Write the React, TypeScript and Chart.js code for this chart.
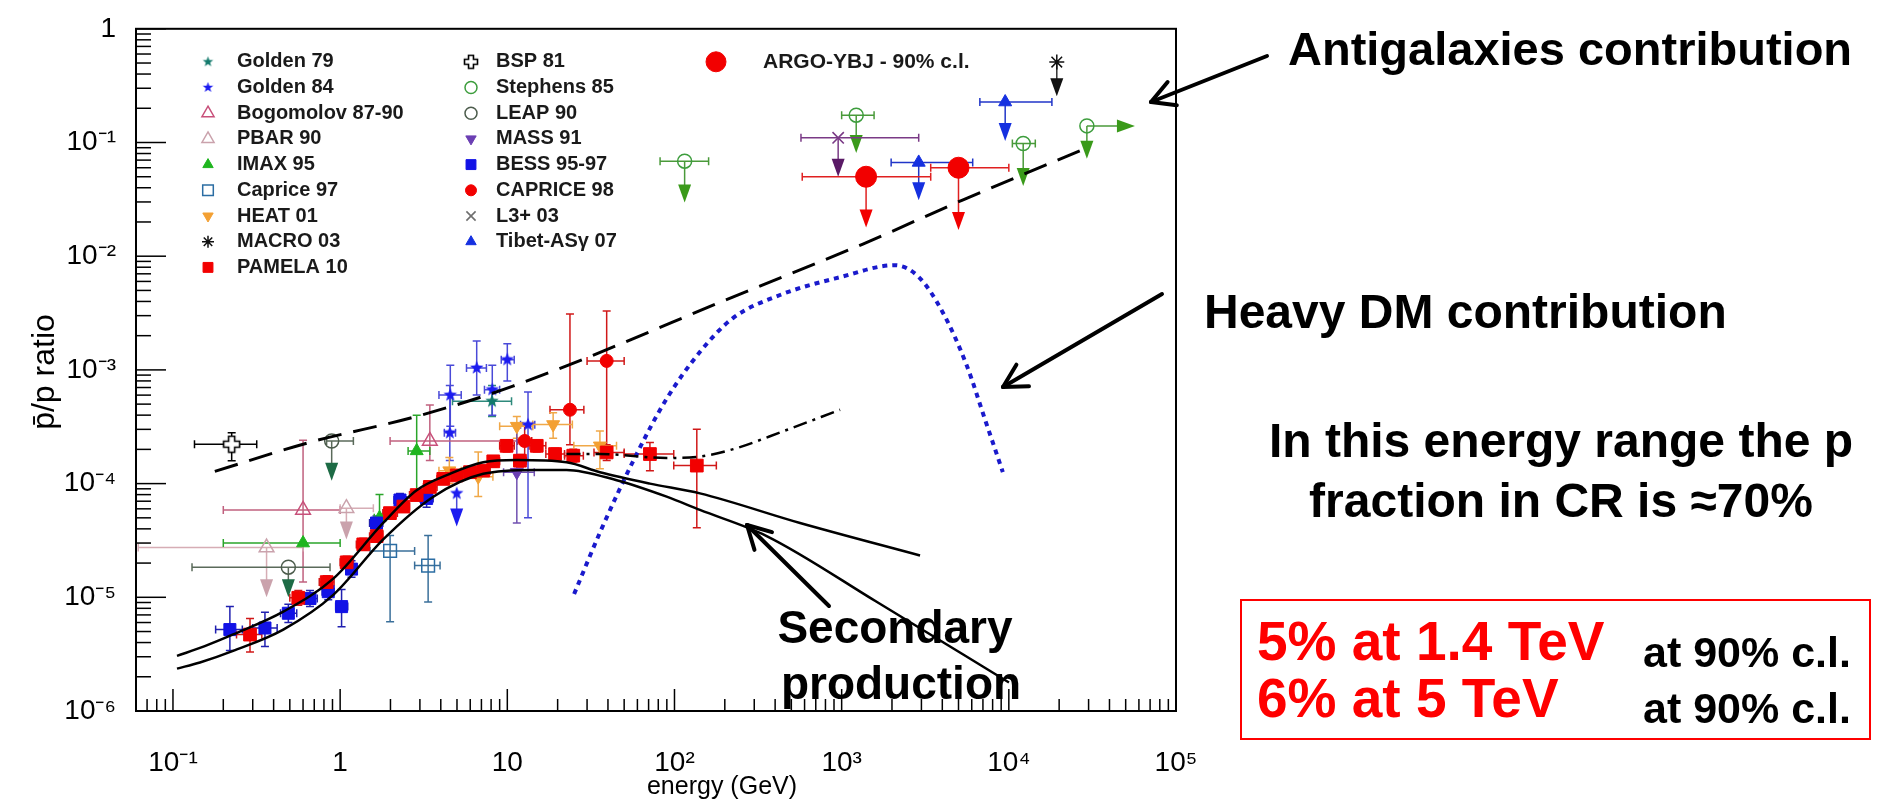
import React, { useEffect, useRef } from 'react';
import { Chart, registerables } from 'chart.js';
import { drawPoint } from 'chart.js/helpers';

Chart.register(...registerables);

type Row = number[];

// ---------------- axes ----------------
const X_MIN = 0.0601;
const X_MAX = 1e5;
const Y_MIN = 1e-6;
const Y_MAX = 1;

const xTickValues = [0.1, 1, 10, 100, 1000, 1e4, 1e5];
const xTickTexts = ['10⁻¹', '1', '10', '10²', '10³', '10⁴', '10⁵'];
const yTickValues = [1, 0.1, 0.01, 1e-3, 1e-4, 1e-5, 1e-6];
const yTickTexts = ['1', '10⁻¹', '10⁻²', '10⁻³', '10⁻⁴', '10⁻⁵', '10⁻⁶'];

// ---------------- measurements ----------------
// [E (GeV), pbar/p, E low, E high, ratio low, ratio high]
const golden79: Row[] = [[8.1, 5.3e-4, 4.7, 10.6, 3.9e-4, 7.3e-4]];
const golden84: Row[] = [
  [4.56, 6.0e-4, 3.9, 5.3, 3.2e-4, 1.1e-3],
  [6.56, 1.04e-3, 5.7, 7.5, 6.0e-4, 1.8e-3],
  [8.13, 6.7e-4, 7.3, 9.0, 4.0e-4, 1.1e-3],
  [10.0, 1.23e-3, 9.2, 11.0, 8.0e-4, 1.7e-3],
  [4.53, 2.8e-4, 4.2, 4.9, 1.6e-4, 7.3e-4],
  [13.3, 3.3e-4, 12.0, 14.6, 5.0e-5, 6.4e-4],
];
// upper limits: [E, ratio, E low, E high, arrow tip ratio]
const golden84UL: Row[] = [[4.98, 8.2e-5, 0, 0, 4.2e-5]];
const bogomolov: Row[] = [
  [0.6, 5.87e-5, 0.2, 1.0, 1.36e-5, 2.4e-4],
  [3.44, 2.37e-4, 1.99, 11.9, 1.6e-4, 4.9e-4],
];
const pbar90UL: Row[] = [
  [0.363, 2.74e-5, 0.062, 0.6, 1.0e-5],
  [1.09, 6.08e-5, 1.0, 1.58, 3.22e-5],
];
const imax95: Row[] = [
  [0.6, 3.0e-5, 0.2, 1.0, 0, 0],
  [1.72, 5.0e-5, 1.6, 1.85, 3.8e-5, 8.0e-5],
  [2.87, 1.94e-4, 2.55, 3.44, 8.7e-5, 4.0e-4],
];
const caprice97: Row[] = [
  [1.99, 2.56e-5, 1.51, 2.79, 6.1e-6, 3.5e-5],
  [3.36, 1.9e-5, 2.79, 3.96, 9.1e-6, 3.5e-5],
];
const heat01: Row[] = [
  [4.5, 1.3e-4, 3.9, 5.3, 1.0e-4, 1.7e-4],
  [6.7, 1.15e-4, 5.5, 8.2, 7.7e-5, 1.9e-4],
  [11.4, 3.2e-4, 9.0, 14.2, 2.5e-4, 3.9e-4],
  [18.8, 3.31e-4, 14.2, 24.5, 2.5e-4, 4.2e-4],
  [35.8, 2.15e-4, 25, 45, 1.35e-4, 2.9e-4],
];
const macro03UL: Row[] = [[19360, 0.51, 0, 0, 0.255]];
const pamela10: Row[] = [
  [0.289, 4.7e-6, 0.24, 0.34, 3.3e-6, 6.5e-6],
  [0.562, 9.9e-6, 0.5, 0.63, 8.5e-6, 1.15e-5],
  [0.831, 1.36e-5, 0.75, 0.92, 1.2e-5, 1.55e-5],
  [1.094, 2.03e-5, 1.0, 1.2, 1.8e-5, 2.3e-5],
  [1.375, 2.92e-5, 1.25, 1.5, 2.6e-5, 3.3e-5],
  [1.654, 3.45e-5, 1.5, 1.8, 3.1e-5, 3.9e-5],
  [1.986, 5.5e-5, 1.8, 2.2, 5.0e-5, 6.1e-5],
  [2.39, 6.28e-5, 2.2, 2.6, 5.7e-5, 6.9e-5],
  [2.87, 7.93e-5, 2.6, 3.15, 7.2e-5, 8.8e-5],
  [3.44, 9.35e-5, 3.15, 3.8, 8.5e-5, 1.03e-4],
  [4.14, 1.1e-4, 3.8, 4.5, 1.0e-4, 1.21e-4],
  [4.98, 1.18e-4, 4.5, 5.5, 1.07e-4, 1.3e-4],
  [5.98, 1.26e-4, 5.5, 6.6, 1.14e-4, 1.39e-4],
  [7.18, 1.3e-4, 6.6, 7.9, 1.17e-4, 1.44e-4],
  [8.24, 1.57e-4, 7.9, 9.0, 1.4e-4, 1.75e-4],
  [9.9, 2.15e-4, 9.0, 11.0, 1.9e-4, 2.4e-4],
  [11.9, 1.59e-4, 11.0, 13.0, 1.4e-4, 1.8e-4],
  [15.0, 2.15e-4, 13.5, 17.0, 1.9e-4, 2.4e-4],
  [19.3, 1.82e-4, 17.0, 22.0, 1.6e-4, 2.05e-4],
  [24.8, 1.76e-4, 22.0, 28.5, 1.55e-4, 2.0e-4],
  [39.3, 1.88e-4, 33.0, 50.0, 1.6e-4, 2.2e-4],
  [71.3, 1.82e-4, 50.0, 99.0, 1.3e-4, 2.3e-4],
  [136, 1.44e-4, 99.0, 178, 4.1e-5, 3.0e-4],
];
const bsp81: Row[] = [[0.2245, 2.22e-4, 0.1345, 0.317, 1.59e-4, 2.8e-4]];
const stephens85UL: Row[] = [
  [115, 0.0685, 82, 160, 0.0296],
  [1222, 0.174, 1000, 1563, 0.081],
  [12190, 0.098, 10500, 14400, 0.0414],
  [29300, 0.14, 0, 0, 0.0718],
];
// [E, ratio, arrow tip energy]
const stephens85Right: Row[] = [[29300, 0.14, 56800]];
const leap90UL: Row[] = [
  [0.49, 1.84e-5, 0.13, 0.87, 1.0e-5],
  [0.89, 2.37e-4, 0.83, 1.2, 1.06e-4],
];
const mass91: Row[] = [[11.4, 1.26e-4, 9.5, 14.5, 4.5e-5, 3.3e-4]];
const bess9597: Row[] = [
  [0.219, 5.2e-6, 0.18, 0.26, 3.4e-6, 8.3e-6],
  [0.355, 5.37e-6, 0.3, 0.42, 3.7e-6, 7.4e-6],
  [0.49, 7.24e-6, 0.44, 0.55, 6.0e-6, 8.7e-6],
  [0.66, 9.77e-6, 0.6, 0.73, 8.3e-6, 1.15e-5],
  [0.849, 1.12e-5, 0.78, 0.92, 9.5e-6, 1.35e-5],
  [1.02, 8.28e-6, 0.94, 1.11, 5.5e-6, 1.17e-5],
  [1.17, 1.77e-5, 1.1, 1.25, 1.5e-5, 2.1e-5],
  [1.65, 4.5e-5, 1.5, 1.8, 3.9e-5, 5.2e-5],
  [2.28, 7.17e-5, 2.1, 2.5, 6.3e-5, 8.2e-5],
  [3.29, 7.41e-5, 3.0, 3.6, 6.2e-5, 8.8e-5],
];
const caprice98: Row[] = [
  [12.7, 2.37e-4, 11.5, 14.0, 1.6e-4, 3.3e-4],
  [23.7, 4.46e-4, 18.0, 28.7, 2.2e-4, 3.1e-3],
  [39.3, 1.2e-3, 30.0, 50.0, 1.8e-4, 3.3e-3],
];
const l3UL: Row[] = [[953, 0.11, 571, 2890, 0.05]];
const tibetUL: Row[] = [
  [2890, 0.0668, 1977, 6080, 0.031],
  [9510, 0.227, 6710, 18100, 0.103],
];
const argoUL: Row[] = [
  [1400, 0.05, 581, 3410, 0.0179],
  [5000, 0.06, 3410, 10000, 0.017],
];

// ---------------- model curves [E, ratio] ----------------
const secondaryUpper: Row[] = [
  [0.1057, 3.05e-6], [0.155, 3.72e-6], [0.229, 4.71e-6], [0.457, 7.48e-6], [0.91, 1.46e-5],
  [1.81, 4.51e-5], [2.87, 8.75e-5], [4.54, 1.22e-4], [7.18, 1.54e-4], [11.4, 1.61e-4],
  [22.6, 1.54e-4], [35.8, 1.26e-4], [71.3, 1.0e-4], [142, 8.2e-5], [564, 4.5e-5], [2944, 2.33e-5],
];
const secondaryLower: Row[] = [
  [0.1057, 2.36e-6], [0.145, 2.67e-6], [0.229, 3.38e-6], [0.457, 5.2e-6], [0.91, 1.05e-5],
  [1.81, 3.23e-5], [3.61, 7.67e-5], [7.18, 1.22e-4], [14.3, 1.32e-4], [22.6, 1.32e-4],
  [45.1, 1.07e-4], [89.8, 7.67e-5], [142, 5.87e-5], [356, 3.46e-5], [1618, 9.14e-6], [10020, 1.78e-6],
];
const dashDotCurve: Row[] = [
  [22.6, 1.82e-4], [35.8, 1.82e-4], [89.8, 1.68e-4], [142, 1.73e-4], [225, 2.01e-4], [448, 2.89e-4], [979, 4.46e-4],
];
const antigalaxies: Row[] = [
  [0.178, 1.28e-4], [0.66, 2.31e-4], [2.87, 3.9e-4], [10.8, 7.2e-4], [279, 5.0e-3],
  [1340, 0.0128], [5240, 0.031], [29400, 0.09],
];
const heavyDM: Row[] = [
  [25.1, 1.07e-5], [36.1, 3.81e-5], [59.3, 1.81e-4], [89.7, 5.57e-4], [142.6, 1.45e-3],
  [222.8, 2.84e-3], [431.5, 4.58e-3], [986, 6.56e-3], [2078, 8.33e-3], [2893, 6.56e-3],
  [4027, 3.2e-3], [5606, 1.09e-3], [7183, 3.71e-4], [9206, 1.26e-4],
];

const LEGEND_COL1 = ['Golden 79', 'Golden 84', 'Bogomolov 87-90', 'PBAR 90', 'IMAX 95', 'Caprice 97', 'HEAT 01', 'MACRO 03', 'PAMELA 10'];
const LEGEND_COL2 = ['BSP 81', 'Stephens 85', 'LEAP 90', 'MASS 91', 'BESS 95-97', 'CAPRICE 98', 'L3+ 03', 'Tibet-ASγ 07'];
const ARGO_LABEL = 'ARGO-YBJ - 90% c.l.';

const FONT = '"Liberation Sans", Arial, Helvetica, sans-serif';
const CLEAR = 'rgba(0,0,0,0)';

function makeStar(color: string, r: number) {
  const c = document.createElement('canvas');
  const s = Math.ceil(r * 2 + 2);
  c.width = s; c.height = s;
  const g = c.getContext('2d')!;
  g.fillStyle = color;
  g.beginPath();
  for (let i = 0; i < 10; i++) {
    const rad = i % 2 === 0 ? r : r * 0.42;
    const a = -Math.PI / 2 + (i * Math.PI) / 5;
    const px = s / 2 + rad * Math.cos(a);
    const py = s / 2 + rad * Math.sin(a);
    if (i === 0) g.moveTo(px, py); else g.lineTo(px, py);
  }
  g.closePath();
  g.fill();
  return c;
}

function makeOpenCross(r: number) {
  const c = document.createElement('canvas');
  const s = Math.ceil(r * 2 + 3);
  c.width = s; c.height = s;
  const g = c.getContext('2d')!;
  const w = r * 0.38;
  const pts = [[-w, -r], [w, -r], [w, -w], [r, -w], [r, w], [w, w], [w, r], [-w, r], [-w, w], [-r, w], [-r, -w], [-w, -w]];
  g.beginPath();
  pts.forEach((p, i) => (i === 0 ? g.moveTo(s / 2 + p[0], s / 2 + p[1]) : g.lineTo(s / 2 + p[0], s / 2 + p[1])));
  g.closePath();
  g.fillStyle = '#fff';
  g.fill();
  g.strokeStyle = '#000';
  g.lineWidth = 1.6;
  g.stroke();
  return c;
}

const pts = (rows: Row[]) => rows.map((r) => ({ x: r[0], y: r[1] }));

function tickText(v: number, values: number[], texts: string[]) {
  for (let i = 0; i < values.length; i++) {
    if (Math.abs(Math.log10(v) - Math.log10(values[i])) < 1e-6) return texts[i];
  }
  return '';
}

export default function App() {
  const ref = useRef<HTMLCanvasElement>(null);

  useEffect(() => {
    const canvas = ref.current!;
    const specs: any[] = [
      { label: 'PAMELA 10', rows: pamela10, style: 'rect', r: 9, color: '#f20000', bg: '#f20000', bw: 1, err: '#d01818', lr: 7 },
      { label: 'CAPRICE 98', rows: caprice98, style: 'circle', r: 6.5, color: '#f20000', bg: '#f20000', bw: 1, err: '#d01818', lr: 5.5 },
      { label: 'BESS 95-97', rows: bess9597, style: 'rect', r: 8.5, color: '#1212e6', bg: '#1212e6', bw: 1, err: '#2020b0', lr: 7 },
      { label: 'Caprice 97', rows: caprice97, style: 'rect', r: 9, color: '#2b6da3', bg: CLEAR, bw: 1.5, err: '#3a6f9a', lr: 7.5 },
      { label: 'Golden 79', rows: golden79, style: makeStar('#137a6c', 7), lstyle: makeStar('#137a6c', 5.5), r: 7, color: '#137a6c', bg: '#137a6c', bw: 0, err: '#2e8a7c' },
      { label: 'Golden 84', rows: golden84, ul: golden84UL, style: makeStar('#1c1cf0', 7), lstyle: makeStar('#1c1cf0', 5.5), r: 7, color: '#1c1cf0', bg: '#1c1cf0', bw: 0, err: '#4a4ad8', head: '#1c1cf0' },
      { label: 'Bogomolov 87-90', rows: bogomolov, style: 'triangle', r: 8.5, color: '#c8507a', bg: CLEAR, bw: 1.5, err: '#c0607e', lr: 7 },
      { label: 'PBAR 90', rows: [], ul: pbar90UL, style: 'triangle', r: 8.5, color: '#caa2ac', bg: CLEAR, bw: 1.5, err: '#d6adb5', head: '#caa2ac', lr: 7 },
      { label: 'IMAX 95', rows: imax95, style: 'triangle', r: 7.5, color: '#1fb51f', bg: '#1fb51f', bw: 1, err: '#2aa52a', lr: 6 },
      { label: 'HEAT 01', rows: heat01, style: 'triangle', rot: 180, r: 7.5, color: '#f3a033', bg: '#f3a033', bw: 1, err: '#f0a848', lr: 6 },
      { label: 'MACRO 03', rows: [], ul: macro03UL, style: 'star', r: 7.5, color: '#111', bg: CLEAR, bw: 1.5, err: '#333', head: '#111', lr: 6 },
      { label: 'BSP 81', rows: bsp81, style: makeOpenCross(8), lstyle: makeOpenCross(6.5), r: 8, color: '#000', bg: '#fff', bw: 0, err: '#000' },
      { label: 'Stephens 85', rows: [], ul: stephens85UL, right: stephens85Right, style: 'circle', r: 7, color: '#3d9d3d', bg: CLEAR, bw: 1.5, err: '#4a9a3a', head: '#3a9a1a', lr: 6 },
      { label: 'LEAP 90', rows: [], ul: leap90UL, style: 'circle', r: 7, color: '#4c5c4c', bg: CLEAR, bw: 1.5, err: '#5a6a5a', head: '#1d6b45', lr: 6 },
      { label: 'MASS 91', rows: mass91, style: 'triangle', rot: 180, r: 7.5, color: '#6b3fb3', bg: '#6b3fb3', bw: 1, err: '#7050b0', lr: 6 },
      { label: 'L3+ 03', rows: [], ul: l3UL, style: 'crossRot', r: 8, color: '#7a3a86', lcolor: '#6e6e6e', bg: CLEAR, bw: 1.6, err: '#7a3a86', head: '#5a1a66', lr: 6.5 },
      { label: 'Tibet-ASγ 07', rows: [], ul: tibetUL, style: 'triangle', r: 7.5, color: '#1530e0', bg: '#1530e0', bw: 1, err: '#2035c8', head: '#1530e0', lr: 6 },
      { label: ARGO_LABEL, rows: [], ul: argoUL, style: 'circle', r: 10.5, color: '#f20000', bg: '#f20000', bw: 1, err: '#e02020', head: '#f20000', lr: 10 },
    ];
    const byLabel: Record<string, any> = {};
    specs.forEach((s) => (byLabel[s.label] = s));

    const curve = (label: string, rows: Row[], color: string, width: number, dash: number[]) => ({
      label, data: pts(rows), showLine: true, pointRadius: 0, pointHitRadius: 0,
      borderColor: color, backgroundColor: color, borderWidth: width, borderDash: dash,
      fill: false, cubicInterpolationMode: 'monotone', order: 0,
    });

    const datasets: any[] = [
      curve('Secondary production (upper)', secondaryUpper, '#000', 2.5, []),
      curve('Secondary production (lower)', secondaryLower, '#000', 2.5, []),
      curve('Antigalaxies contribution', antigalaxies, '#000', 3, [24, 12]),
      curve('Extra component', dashDotCurve, '#000', 2.5, [14, 6, 3, 6]),
      curve('Heavy DM contribution', heavyDM, '#1a1acc', 4, [5, 5]),
    ];
    specs.forEach((s) => {
      const rows = [...s.rows, ...(s.ul || [])];
      datasets.push({
        label: s.label, data: pts(rows), showLine: false,
        pointStyle: s.style, pointRadius: s.r, pointRotation: s.rot || 0,
        pointBackgroundColor: s.bg, pointBorderColor: s.color, pointBorderWidth: s.bw,
        errRows: s.rows, ulRows: s.ul || [], rightRows: s.right || [],
        errColor: s.err, headColor: s.head || s.color, order: 1,
      });
    });

    const line = (ctx: CanvasRenderingContext2D, x1: number, y1: number, x2: number, y2: number) => {
      ctx.beginPath(); ctx.moveTo(x1, y1); ctx.lineTo(x2, y2); ctx.stroke();
    };

    const errorBars = {
      id: 'errorBars',
      beforeDatasetsDraw(chart: any) {
        const { ctx, chartArea: a } = chart;
        const xs = chart.scales.x;
        const ys = chart.scales.y;
        ctx.save();
        ctx.beginPath();
        ctx.rect(a.left, a.top, a.right - a.left, a.bottom - a.top);
        ctx.clip();
        ctx.lineWidth = 1.5;
        const cap = 4;
        chart.data.datasets.forEach((ds: any) => {
          if (!ds.errRows) return;
          ctx.strokeStyle = ds.errColor;
          const xbar = (r: Row, py: number) => {
            if (r[2] > 0 && r[3] > 0) {
              const x1 = xs.getPixelForValue(r[2]);
              const x2 = xs.getPixelForValue(r[3]);
              line(ctx, x1, py, x2, py);
              line(ctx, x1, py - cap, x1, py + cap);
              line(ctx, x2, py - cap, x2, py + cap);
            }
          };
          ds.errRows.forEach((r: Row) => {
            const px = xs.getPixelForValue(r[0]);
            const py = ys.getPixelForValue(r[1]);
            xbar(r, py);
            if (r[4] > 0 && r[5] > 0) {
              const y1 = ys.getPixelForValue(r[4]);
              const y2 = ys.getPixelForValue(r[5]);
              line(ctx, px, y1, px, y2);
              line(ctx, px - cap, y1, px + cap, y1);
              line(ctx, px - cap, y2, px + cap, y2);
            }
          });
          ds.ulRows.forEach((r: Row) => {
            const px = xs.getPixelForValue(r[0]);
            const py = ys.getPixelForValue(r[1]);
            ctx.strokeStyle = ds.errColor;
            xbar(r, py);
            const yt = ys.getPixelForValue(r[4]);
            line(ctx, px, py, px, yt - 14);
            ctx.fillStyle = ds.headColor;
            ctx.beginPath();
            ctx.moveTo(px, yt);
            ctx.lineTo(px - 6.5, yt - 18);
            ctx.lineTo(px + 6.5, yt - 18);
            ctx.closePath();
            ctx.fill();
          });
          ds.rightRows.forEach((r: Row) => {
            const px = xs.getPixelForValue(r[0]);
            const py = ys.getPixelForValue(r[1]);
            const xt = xs.getPixelForValue(r[2]);
            ctx.strokeStyle = ds.errColor;
            line(ctx, px, py, xt - 14, py);
            ctx.fillStyle = ds.headColor;
            ctx.beginPath();
            ctx.moveTo(xt, py);
            ctx.lineTo(xt - 18, py - 6.5);
            ctx.lineTo(xt - 18, py + 6.5);
            ctx.closePath();
            ctx.fill();
          });
        });
        ctx.restore();
      },
    };

    const frameAndTicks = {
      id: 'frameAndTicks',
      afterDraw(chart: any) {
        const { ctx, chartArea: a } = chart;
        const xs = chart.scales.x;
        const ys = chart.scales.y;
        ctx.save();
        ctx.strokeStyle = '#000';
        ctx.lineWidth = 1.5;
        const isMajor = (v: number) => Math.abs(Math.log10(v) - Math.round(Math.log10(v))) < 1e-6;
        const isNice = (v: number) => {
          const m = v / Math.pow(10, Math.floor(Math.log10(v) + 1e-9));
          return Math.abs(m - Math.round(m)) < 1e-6;
        };
        xs.ticks.forEach((t: any) => {
          const v = t.value;
          if (!isNice(v) || v < X_MIN || v > X_MAX * 1.0001) return;
          const px = xs.getPixelForValue(v);
          line(ctx, px, a.bottom, px, a.bottom - (isMajor(v) ? 22 : 12));
        });
        ys.ticks.forEach((t: any) => {
          const v = t.value;
          if (!isNice(v) || v < Y_MIN * 0.9999 || v > Y_MAX * 1.0001) return;
          const py = ys.getPixelForValue(v);
          line(ctx, a.left, py, a.left + (isMajor(v) ? 30 : 15), py);
        });
        ctx.lineWidth = 2;
        ctx.strokeRect(a.left, a.top, a.right - a.left, a.bottom - a.top);

        // axis titles
        ctx.fillStyle = '#000';
        ctx.font = `25px ${FONT}`;
        ctx.textAlign = 'center';
        ctx.textBaseline = 'middle';
        ctx.fillText('energy (GeV)', 722, 787);
        ctx.save();
        ctx.translate(45, 372);
        ctx.rotate(-Math.PI / 2);
        ctx.font = `32px ${FONT}`;
        ctx.fillText('p\u0304/p ratio', 0, 0);
        ctx.restore();

        // legend
        const drawMarker = (s: any, x: number, y: number) => {
          ctx.save();
          const c = s.lcolor || s.color;
          ctx.fillStyle = s.bg === CLEAR ? CLEAR : (s.lcolor || s.bg);
          ctx.strokeStyle = c;
          ctx.lineWidth = s.bw || 1;
          drawPoint(ctx, { pointStyle: s.lstyle || s.style, rotation: s.rot || 0, radius: s.lr || s.r, borderWidth: s.bw } as any, x, y);
          ctx.restore();
        };
        ctx.font = `bold 20px ${FONT}`;
        ctx.textAlign = 'left';
        ctx.textBaseline = 'middle';
        const y0 = a.top + 33;
        const dy = 25.7;
        LEGEND_COL1.forEach((name, i) => {
          drawMarker(byLabel[name], a.left + 72, y0 + i * dy);
          ctx.fillStyle = '#1a1a1a';
          ctx.fillText(name, a.left + 101, y0 + i * dy);
        });
        LEGEND_COL2.forEach((name, i) => {
          drawMarker(byLabel[name], a.left + 335, y0 + i * dy);
          ctx.fillStyle = '#1a1a1a';
          ctx.fillText(name, a.left + 360, y0 + i * dy);
        });
        drawMarker(byLabel[ARGO_LABEL], a.left + 580, y0);
        ctx.fillStyle = '#1a1a1a';
        ctx.font = `bold 21px ${FONT}`;
        ctx.fillText(ARGO_LABEL, a.left + 627, y0);
        ctx.restore();
      },
    };

    const annotations = {
      id: 'annotations',
      afterDraw(chart: any) {
        const ctx: CanvasRenderingContext2D = chart.ctx;
        ctx.save();
        ctx.fillStyle = '#000';
        ctx.textBaseline = 'middle';
        ctx.textAlign = 'left';
        ctx.font = `bold 47px ${FONT}`;
        ctx.fillText('Antigalaxies contribution', 1288, 52);
        ctx.font = `bold 48px ${FONT}`;
        ctx.fillText('Heavy DM contribution', 1204, 315);
        ctx.textAlign = 'center';
        ctx.fillText('In this energy range the p', 1561, 444);
        ctx.fillText('fraction in CR is ≈70%', 1561, 504);
        ctx.font = `bold 46px ${FONT}`;
        ctx.fillText('Secondary', 895, 630);
        ctx.fillText('production', 901, 686);

        ctx.strokeStyle = '#f00';
        ctx.lineWidth = 2;
        ctx.strokeRect(1241, 600, 629, 139);
        ctx.textAlign = 'left';
        ctx.fillStyle = '#f00';
        ctx.font = `bold 55px ${FONT}`;
        ctx.fillText('5% at 1.4 TeV', 1257, 645);
        ctx.fillText('6% at 5 TeV', 1257, 702);
        ctx.fillStyle = '#000';
        ctx.font = `bold 43px ${FONT}`;
        ctx.fillText('at 90% c.l.', 1643, 655);
        ctx.fillText('at 90% c.l.', 1643, 711);

        const arrow = (x1: number, y1: number, x2: number, y2: number) => {
          ctx.strokeStyle = '#000';
          ctx.lineWidth = 4;
          ctx.lineCap = 'round';
          line(ctx, x1, y1, x2, y2);
          const ang = Math.atan2(y2 - y1, x2 - x1);
          const L = 26;
          for (const d of [-0.5, 0.5]) {
            line(ctx, x2, y2, x2 - L * Math.cos(ang + d), y2 - L * Math.sin(ang + d));
          }
        };
        arrow(1267, 56, 1151, 102);
        arrow(1162, 294, 1003, 387);
        arrow(829, 606, 747, 525);
        ctx.restore();
      },
    };

    const chart = new Chart(canvas, {
      type: 'scatter',
      data: { datasets },
      options: {
        responsive: false,
        animation: false,
        devicePixelRatio: 1,
        layout: { padding: { left: 0, top: 18, right: 707, bottom: 0 } },
        plugins: { legend: { display: false }, tooltip: { enabled: false } },
        scales: {
          x: {
            type: 'logarithmic', position: 'bottom', min: X_MIN, max: X_MAX,
            grid: { display: false }, border: { display: false },
            ticks: {
              autoSkip: false, maxRotation: 0, minRotation: 0, padding: 27, color: '#000',
              font: { family: FONT, size: 28 },
              callback: (v: any) => tickText(Number(v), xTickValues, xTickTexts),
            },
            afterFit: (s: any) => { s.height = 90; },
          },
          y: {
            type: 'logarithmic', position: 'left', min: Y_MIN, max: Y_MAX,
            grid: { display: false }, border: { display: false },
            ticks: {
              autoSkip: false, padding: 12, color: '#000',
              font: { family: FONT, size: 28 },
              callback: (v: any) => tickText(Number(v), yTickValues, yTickTexts),
            },
            afterFit: (s: any) => { s.width = 136; },
          },
        },
      } as any,
      plugins: [errorBars, frameAndTicks, annotations],
    });
    return () => chart.destroy();
  }, []);

  return (
    <div style={{ position: 'absolute', left: 0, top: 0, width: 1883, height: 801, background: '#fff' }}>
      <canvas ref={ref} width={1883} height={801} style={{ display: 'block', width: 1883, height: 801 }} />
    </div>
  );
}
